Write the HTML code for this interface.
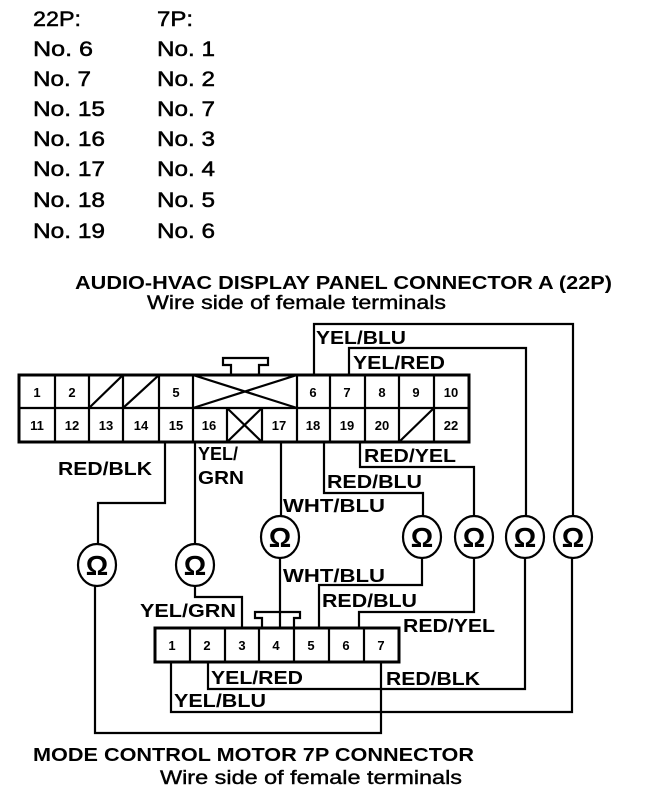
<!DOCTYPE html>
<html><head><meta charset="utf-8"><style>
html,body{margin:0;padding:0;background:#fff;width:672px;height:794px;overflow:hidden}
svg{display:block}
text{font-family:"Liberation Sans",Arial,sans-serif;fill:#000}
.t{font-size:21px;stroke:#000;stroke-width:0.5}
.b{font-size:18px;font-weight:bold}
.n{font-size:13px;font-weight:bold}
</style></head><body>
<svg width="672" height="794" viewBox="0 0 672 794" xmlns="http://www.w3.org/2000/svg">
<g class="t">
<text x="33" y="26" textLength="48" lengthAdjust="spacingAndGlyphs">22P:</text>
<text x="157" y="26" textLength="36" lengthAdjust="spacingAndGlyphs">7P:</text>
<text x="33" y="56" textLength="60" lengthAdjust="spacingAndGlyphs">No. 6</text>
<text x="157" y="56" textLength="58" lengthAdjust="spacingAndGlyphs">No. 1</text>
<text x="33" y="86" textLength="58" lengthAdjust="spacingAndGlyphs">No. 7</text>
<text x="157" y="86" textLength="58" lengthAdjust="spacingAndGlyphs">No. 2</text>
<text x="33" y="116" textLength="72" lengthAdjust="spacingAndGlyphs">No. 15</text>
<text x="157" y="116" textLength="58" lengthAdjust="spacingAndGlyphs">No. 7</text>
<text x="33" y="146" textLength="72" lengthAdjust="spacingAndGlyphs">No. 16</text>
<text x="157" y="146" textLength="58" lengthAdjust="spacingAndGlyphs">No. 3</text>
<text x="33" y="176" textLength="72" lengthAdjust="spacingAndGlyphs">No. 17</text>
<text x="157" y="176" textLength="58" lengthAdjust="spacingAndGlyphs">No. 4</text>
<text x="33" y="207" textLength="72" lengthAdjust="spacingAndGlyphs">No. 18</text>
<text x="157" y="207" textLength="58" lengthAdjust="spacingAndGlyphs">No. 5</text>
<text x="33" y="238" textLength="72" lengthAdjust="spacingAndGlyphs">No. 19</text>
<text x="157" y="238" textLength="58" lengthAdjust="spacingAndGlyphs">No. 6</text>
</g>
<text x="75" y="289" style="font-size:18px;font-weight:bold" textLength="537" lengthAdjust="spacingAndGlyphs">AUDIO-HVAC DISPLAY PANEL CONNECTOR A (22P)</text>
<text x="147" y="309" style="font-size:19px;stroke:#000;stroke-width:0.4" textLength="299" lengthAdjust="spacingAndGlyphs">Wire side of female terminals</text>
<text x="33" y="761" style="font-size:18px;font-weight:bold" textLength="441" lengthAdjust="spacingAndGlyphs">MODE CONTROL MOTOR 7P CONNECTOR</text>
<text x="160" y="784" style="font-size:19px;stroke:#000;stroke-width:0.4" textLength="302" lengthAdjust="spacingAndGlyphs">Wire side of female terminals</text>

<g fill="none" stroke="#000" stroke-width="2.2">
<path d="M231 375 V365 H223 V358 H268 V365 H259 V375"/>
<rect x="19" y="375" width="450" height="67" stroke-width="3"/>
<line x1="19" y1="408" x2="469" y2="408"/>
<path d="M55 375V442M89 375V442M123 375V442M159 375V442M193 375V442M297 375V442M330 375V442M365 375V442M399 375V442M434 375V442M227 408V442M262 408V442"/>
<path d="M193 375L297 408M193 408L297 375M227 408L262 442M227 442L262 408M89 408L123 375M123 408L159 375M399 442L434 408"/>
<path d="M314 375V324H573V517"/>
<path d="M349 375V348H526V517"/>
<path d="M165 442V503H98V545"/>
<path d="M195 442V545"/>
<path d="M281 442V517"/>
<path d="M324 442V493H423V517"/>
<path d="M360 442V467H474V517"/>
<ellipse cx="97" cy="565" rx="19" ry="21"/>
<ellipse cx="195" cy="565" rx="19" ry="21"/>
<ellipse cx="280" cy="537" rx="19" ry="21"/>
<ellipse cx="422" cy="537" rx="19" ry="21"/>
<ellipse cx="474" cy="537" rx="19" ry="21"/>
<ellipse cx="525" cy="537" rx="19" ry="21"/>
<ellipse cx="573" cy="537" rx="19" ry="21"/>
<path d="M262 628V618H255V612H300V618H294V628"/>
<rect x="155" y="628" width="244" height="34" stroke-width="3"/>
<path d="M190 628V662M225 628V662M259 628V662M294 628V662M329 628V662M364 628V662"/>
<path d="M195 586V597H242V628"/>
<path d="M280 558V628"/>
<path d="M422 558V585H319V628"/>
<path d="M474 558V612H359V628"/>
<path d="M171 662V712H572V558"/>
<path d="M208 662V689H525V558"/>
<path d="M381 662V733H95V586"/>
</g>
<g font-size="28" font-weight="bold" text-anchor="middle" style="font-family:'DejaVu Sans',sans-serif">
<text x="97" y="575">Ω</text><text x="195" y="575">Ω</text><text x="280" y="547">Ω</text>
<text x="422" y="547">Ω</text><text x="474" y="547">Ω</text><text x="525" y="547">Ω</text><text x="573" y="547">Ω</text>
</g>
<g class="n" text-anchor="middle">
<text x="37" y="397">1</text><text x="72" y="397">2</text><text x="176" y="397">5</text>
<text x="313" y="397">6</text><text x="347" y="397">7</text><text x="382" y="397">8</text><text x="416" y="397">9</text><text x="451" y="397">10</text>
<text x="37" y="430">11</text><text x="72" y="430">12</text><text x="106" y="430">13</text><text x="141" y="430">14</text><text x="176" y="430">15</text><text x="209" y="430">16</text>
<text x="279" y="430">17</text><text x="313" y="430">18</text><text x="347" y="430">19</text><text x="382" y="430">20</text><text x="451" y="430">22</text>
<text x="172" y="650">1</text><text x="207" y="650">2</text><text x="242" y="650">3</text><text x="276" y="650">4</text><text x="311" y="650">5</text><text x="346" y="650">6</text><text x="381" y="650">7</text>
</g>
<g class="b">
<text x="316" y="344" textLength="90" lengthAdjust="spacingAndGlyphs">YEL/BLU</text>
<text x="353" y="369" textLength="92" lengthAdjust="spacingAndGlyphs">YEL/RED</text>
<text x="58" y="475" textLength="94" lengthAdjust="spacingAndGlyphs">RED/BLK</text>
<text x="198" y="460" textLength="40" lengthAdjust="spacingAndGlyphs">YEL/</text>
<text x="198" y="484" textLength="46" lengthAdjust="spacingAndGlyphs">GRN</text>
<text x="364" y="462" textLength="92" lengthAdjust="spacingAndGlyphs">RED/YEL</text>
<text x="327" y="488" textLength="95" lengthAdjust="spacingAndGlyphs">RED/BLU</text>
<text x="283" y="512" textLength="102" lengthAdjust="spacingAndGlyphs">WHT/BLU</text>
<text x="283" y="582" textLength="102" lengthAdjust="spacingAndGlyphs">WHT/BLU</text>
<text x="322" y="607" textLength="95" lengthAdjust="spacingAndGlyphs">RED/BLU</text>
<text x="140" y="617" textLength="96" lengthAdjust="spacingAndGlyphs">YEL/GRN</text>
<text x="403" y="632" textLength="92" lengthAdjust="spacingAndGlyphs">RED/YEL</text>
<text x="211" y="684" textLength="92" lengthAdjust="spacingAndGlyphs">YEL/RED</text>
<text x="386" y="685" textLength="94" lengthAdjust="spacingAndGlyphs">RED/BLK</text>
<text x="174" y="707" textLength="92" lengthAdjust="spacingAndGlyphs">YEL/BLU</text>
</g>
</svg>
</body></html>
